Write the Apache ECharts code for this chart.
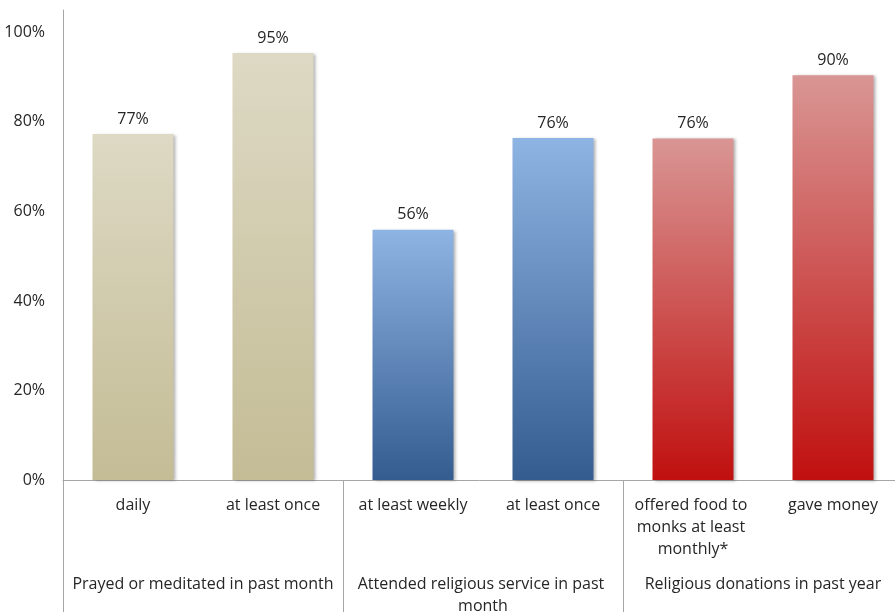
<!DOCTYPE html>
<html>
<head>
<meta charset="utf-8">
<script src="https://cdn.jsdelivr.net/npm/echarts@6/dist/echarts.min.js"></script>
<style>
html,body{margin:0;padding:0;background:#fff;}
#chart{width:895px;height:612px;}
</style>
</head>
<body>
<div id="chart"></div>
<script>
var categories = ['daily', 'at least once', 'at least weekly', 'at least once', 'offered food to monks at least monthly*', 'gave money'];
var groups = ['Prayed or meditated in past month', 'Attended religious service in past month', 'Religious donations in past year'];
var values = [77.3, 95.4, 55.9, 76.4, 76.3, 90.4];
var barGroup = [0, 0, 1, 1, 2, 2];
var yTicks = [0, 20, 40, 60, 80, 100];

var gradients = [
  ['#ddd9c4', '#c4bc95'],
  ['#8eb4e3', '#345c8f'],
  ['#d99694', '#c0100f']
];

var font = '"Open Sans", Lato, sans-serif';
var textColor = '#262626';
var lineColor = '#a6a6a6';
var fs = 16;

var chart = echarts.init(document.getElementById('chart'));
chart.setOption({
  animation: false,
  backgroundColor: '#ffffff',
  grid: { left: 63, top: 10, width: 840, height: 470, containLabel: false, outerBoundsMode: 'none' },
  xAxis: [
    {
      type: 'category',
      data: categories,
      position: 'bottom',
      axisLine: { show: true, lineStyle: { color: lineColor, width: 1 } },
      axisTick: { show: false },
      axisLabel: {
        interval: 0,
        margin: 14,
        fontFamily: font,
        fontSize: fs,
        color: textColor,
        width: 125,
        overflow: 'break',
        lineHeight: 22,
        align: 'center'
      }
    },
    {
      type: 'category',
      data: groups,
      position: 'bottom',
      axisLine: { show: false },
      axisTick: { show: true, length: 140, interval: 0, lineStyle: { color: lineColor, width: 1 } },
      axisLabel: {
        interval: 0,
        margin: 93,
        fontFamily: font,
        fontSize: fs,
        color: textColor,
        width: 272,
        overflow: 'break',
        lineHeight: 22
      }
    }
  ],
  yAxis: {
    type: 'value',
    min: 0,
    max: 105,
    interval: 20,
    axisLine: { show: true, lineStyle: { color: lineColor, width: 1 } },
    axisTick: { show: false },
    splitLine: { show: false },
    axisLabel: {
      margin: 18,
      fontFamily: font,
      fontSize: fs,
      color: textColor,
      formatter: function (v) { return yTicks.indexOf(v) >= 0 ? v + '%' : ''; }
    }
  },
  series: [{
    type: 'bar',
    xAxisIndex: 0,
    barWidth: 81,
    data: values.map(function (v, i) {
      var g = gradients[barGroup[i]];
      return {
        value: v,
        itemStyle: {
          color: new echarts.graphic.LinearGradient(0, 0, 0, 1, [
            { offset: 0, color: g[0] },
            { offset: 1, color: g[1] }
          ]),
          shadowColor: 'rgba(0,0,0,0.3)',
          shadowBlur: 3,
          shadowOffsetX: 2,
          shadowOffsetY: 1
        }
      };
    }),
    label: {
      show: true,
      position: 'top',
      distance: 7,
      fontFamily: font,
      fontSize: fs,
      color: textColor,
      formatter: function (p) { return Math.round(p.value) + '%'; }
    }
  }]
});
</script>
</body>
</html>
